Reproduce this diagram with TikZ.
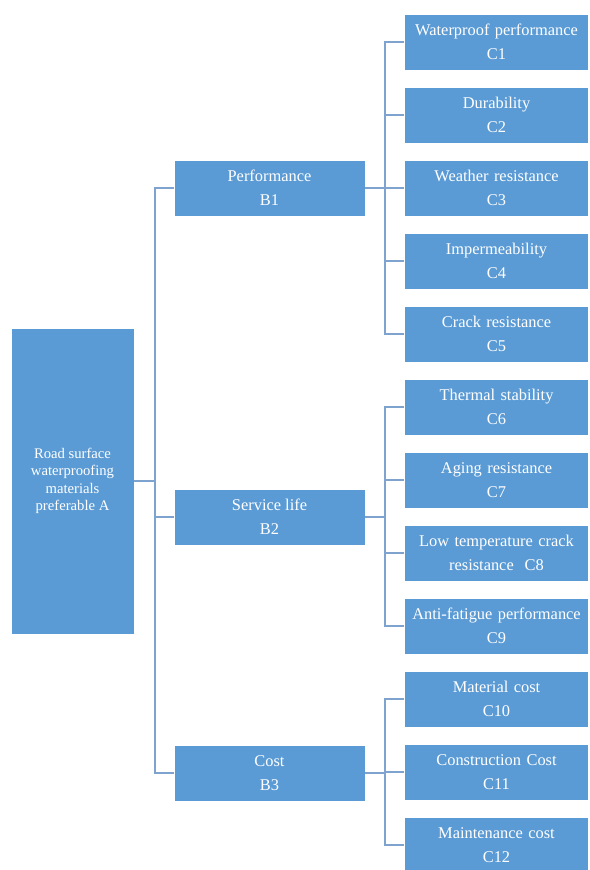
\documentclass[tikz,border=0pt]{standalone}
\usepackage{fontspec}
\setmainfont{Liberation Serif}
\definecolor{boxblue}{RGB}{91,155,213}
\definecolor{linkblue}{RGB}{127,163,207}
\tikzset{
  goal/.style={draw=white,fill=boxblue,text=white,align=center,minimum width=92.25pt,minimum height=229.5pt,inner sep=2pt,font=\fontsize{11}{13}\selectfont},
  crit/.style={draw=white,fill=boxblue,text=white,align=center,minimum width=143.25pt,minimum height=42pt,inner sep=2pt,font=\fontsize{12.3}{18}\selectfont},
  sub/.style={draw=white,fill=boxblue,text=white,align=center,minimum width=137.25pt,minimum height=42pt,text width=136pt,inner sep=1pt,font=\fontsize{12.3}{18}\selectfont},
  link/.style={draw=linkblue,line width=1.1pt}
}
\begin{document}
\begin{tikzpicture}[x=0.75pt,y=-0.75pt]
    \useasboundingbox (0,0) rectangle (589,870);
    \node[goal] (A) at (72.5,481) {Road surface\\waterproofing\\materials\\preferable A};

    \node[crit] (B1) at (269.5,188) {Performance\\B1};
    \node[crit] (B2) at (269.5,517) {Service life\\B2};
    \node[crit] (B3) at (269.5,773) {Cost\\B3};

    \node[sub] (C1) at (496.5,42) {Waterproof performance\\C1};
    \node[sub] (C2) at (496.5,115) {Durability\\C2};
    \node[sub] (C3) at (496.5,188) {Weather resistance\\C3};
    \node[sub] (C4) at (496.5,261) {Impermeability\\C4};
    \node[sub] (C5) at (496.5,334) {Crack resistance\\C5};
    \node[sub] (C6) at (496.5,407) {Thermal stability\\C6};
    \node[sub] (C7) at (496.5,480) {Aging resistance\\C7};
    \node[sub] (C8) at (496.5,553) {Low temperature crack\\resistance~~C8};
    \node[sub] (C9) at (496.5,626) {Anti-fatigue performance\\C9};
    \node[sub] (C10) at (496.5,699) {Material cost\\C10};
    \node[sub] (C11) at (496.5,772) {Construction Cost\\C11};
    \node[sub] (C12) at (496.5,845) {Maintenance cost\\C12};

    \coordinate (jA) at (155,481);
    \coordinate (jB) at (385,188);

    \draw[link] (A.east) -- (jA)
                (B1.west) -- (B1.west -| jA) -- (B3.west -| jA) -- (B3.west)
                (B2.west) -- (B2.west -| jA);
    \draw[link] (B1.east) -- (B1.east -| jB)
                (C1.west) -- (C1.west -| jB) -- (C5.west -| jB) -- (C5.west)
                (C2.west) -- (C2.west -| jB)
                (C3.west) -- (C3.west -| jB)
                (C4.west) -- (C4.west -| jB);
    \draw[link] (B2.east) -- (B2.east -| jB)
                (C6.west) -- (C6.west -| jB) -- (C9.west -| jB) -- (C9.west)
                (C7.west) -- (C7.west -| jB)
                (C8.west) -- (C8.west -| jB);
    \draw[link] (B3.east) -- (B3.east -| jB)
                (C10.west) -- (C10.west -| jB) -- (C12.west -| jB) -- (C12.west)
                (C11.west) -- (C11.west -| jB);
\end{tikzpicture}
\end{document}
